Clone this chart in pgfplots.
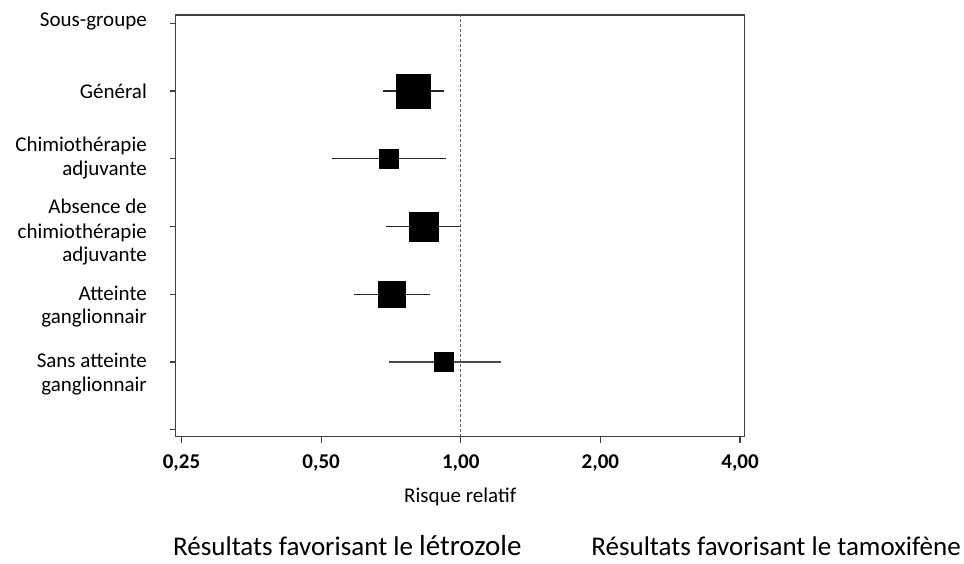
\documentclass[border=0pt]{standalone}
\usepackage{pgfplots}
\pgfplotsset{compat=1.18}
\usepackage{fontspec}
\setmainfont{Carlito}

\newcommand\lab{\fontsize{21}{25}\selectfont}
\newcommand\bigtxt{\fontsize{27}{32}\selectfont}

\begin{document}
\begin{tikzpicture}
    \begin{axis}[
        at={(0,0)}, anchor=south west,
        scale only axis,
        width=569pt, height=421.7pt,
        xmode=log, log basis x=2,
        xmin=0.2429, xmax=4.094,
        ymin=-0.103, ymax=6.123,
        xtick={0.25,0.5,1,2,4},
        xticklabels={{0,25},{0,50},{1,00},{2,00},{4,00}},
        ytick={0,1,2,3,4,5,6},
        yticklabels={},
        tick align=outside,
        xtick pos=bottom, ytick pos=left,
        major tick length=6pt,
        axis line style={black!75, line width=1.2pt},
        tick style={black!75, line width=1.2pt},
        xticklabel style={font=\lab\bfseries, inner sep=0pt, anchor=north, yshift=-12pt},
        xlabel={Risque relatif},
        xlabel style={font=\lab, at={(axis description cs:0.5,0)}, anchor=base, inner sep=0pt, yshift=-65.3pt},
        clip=false,
    ]
    % reference line at RR = 1
    \addplot[black!60, line width=1pt, dash pattern=on 3pt off 2pt] coordinates {(1,-0.103) (1,6.123)};

    % confidence intervals
    \addplot[black!85, line width=1.2pt] coordinates {(0.681,5) (0.920,5)};
    \addplot[black!85, line width=1.2pt] coordinates {(0.529,4) (0.929,4)};
    \addplot[black!85, line width=1.2pt] coordinates {(0.691,3) (1.000,3)};
    \addplot[black!85, line width=1.2pt] coordinates {(0.590,2) (0.860,2)};
    \addplot[black!70, line width=1.2pt] coordinates {(0.700,1) (1.221,1)};

    % point estimates (square size ~ weight)
    \addplot[only marks, mark=square*, mark options={fill=black, draw=black}, mark size=16.8pt] coordinates {(0.790,5)};
    \addplot[only marks, mark=square*, mark options={fill=black, draw=black}, mark size=9.3pt] coordinates {(0.699,4)};
    \addplot[only marks, mark=square*, mark options={fill=black, draw=black}, mark size=14.3pt] coordinates {(0.832,3)};
    \addplot[only marks, mark=square*, mark options={fill=black, draw=black}, mark size=13.3pt] coordinates {(0.710,2)};
    \addplot[only marks, mark=square*, mark options={fill=black, draw=black}, mark size=9.3pt] coordinates {(0.919,1)};
    \end{axis}

    % subgroup labels
    \begin{scope}[every node/.style={font=\lab, inner sep=0pt, anchor=base east}]
    \node at (-28.7pt,409.7pt) {Sous-groupe};
    \node at (-28.7pt,337.7pt) {Général};
    \node at (-28.7pt,284.7pt) {Chimiothérapie};
    \node at (-28.7pt,260.7pt) {adjuvante};
    \node at (-28.7pt,223.4pt) {Absence de};
    \node at (-28.7pt,198.4pt) {chimiothérapie};
    \node at (-28.7pt,175.0pt) {adjuvante};
    \node at (-28.7pt,136.7pt) {Atteinte};
    \node at (-28.7pt,113.2pt) {ganglionnair};
    \node at (-28.7pt,69.7pt) {Sans atteinte};
    \node at (-28.7pt,45.2pt) {ganglionnair};
    \end{scope}

    \node[font=\bigtxt, inner sep=0pt, anchor=base west] at (-2.7pt,-118.3pt) {Résultats favorisant le {\fontsize{29}{32}\selectfont létrozole}};
    \node[font=\bigtxt, inner sep=0pt, anchor=base east] at (785.3pt,-118.3pt) {Résultats favorisant le tamoxifène};

    \path (-175.7pt,-126.3pt) rectangle (788.3pt,436.7pt);
\end{tikzpicture}
\end{document}
